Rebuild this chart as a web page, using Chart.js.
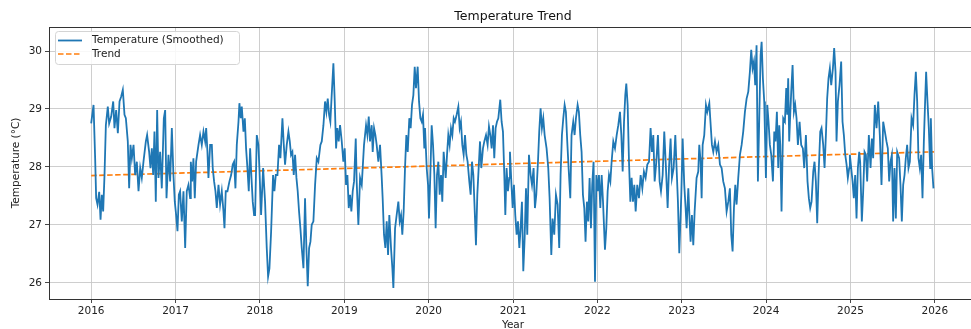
<!DOCTYPE html>
<html>
<head>
<meta charset="utf-8">
<title>Temperature Trend</title>
<style>
  html, body { margin: 0; padding: 0; background: #ffffff; overflow: hidden; }
  #wrap { position: relative; width: 980px; height: 329px; }
  canvas { display: block; }
</style>
<script src="https://cdn.jsdelivr.net/npm/chart.js@4.4.1/dist/chart.umd.min.js"></script>
</head>
<body>
<div id="wrap"><canvas id="chart" width="980" height="329"></canvas></div>
<script>
// Smoothed temperature series: time as decimal year, value in °C
const dates = [
  2016.000, 2016.028, 2016.047, 2016.059, 2016.075, 2016.095, 2016.111, 2016.126, 2016.142, 2016.158,
  2016.174, 2016.197, 2016.213, 2016.237, 2016.261, 2016.276, 2016.296, 2016.316, 2016.336, 2016.355,
  2016.375, 2016.395, 2016.411, 2016.434, 2016.450, 2016.466, 2016.482, 2016.502, 2016.521, 2016.541,
  2016.561, 2016.581, 2016.600, 2016.620, 2016.648, 2016.663, 2016.687, 2016.703, 2016.719, 2016.735,
  2016.750, 2016.766, 2016.782, 2016.798, 2016.817, 2016.837, 2016.861, 2016.877, 2016.893, 2016.916,
  2016.936, 2016.956, 2016.975, 2016.991, 2017.007, 2017.023, 2017.039, 2017.054, 2017.074, 2017.094,
  2017.114, 2017.133, 2017.153, 2017.173, 2017.181, 2017.197, 2017.212, 2017.228, 2017.244, 2017.272,
  2017.291, 2017.311, 2017.331, 2017.351, 2017.363, 2017.378, 2017.390, 2017.410, 2017.430, 2017.441,
  2017.457, 2017.473, 2017.489, 2017.509, 2017.528, 2017.548, 2017.568, 2017.580, 2017.595, 2017.615,
  2017.639, 2017.659, 2017.678, 2017.694, 2017.710, 2017.726, 2017.746, 2017.757, 2017.773, 2017.785,
  2017.805, 2017.821, 2017.836, 2017.852, 2017.868, 2017.884, 2017.900, 2017.915, 2017.931, 2017.943,
  2017.963, 2017.982, 2017.994, 2018.014, 2018.038, 2018.061, 2018.081, 2018.097, 2018.113, 2018.133,
  2018.156, 2018.172, 2018.188, 2018.208, 2018.227, 2018.243, 2018.267, 2018.283, 2018.298, 2018.318,
  2018.338, 2018.354, 2018.369, 2018.385, 2018.401, 2018.417, 2018.433, 2018.448, 2018.464, 2018.480,
  2018.496, 2018.516, 2018.535, 2018.551, 2018.567, 2018.583, 2018.599, 2018.614, 2018.634, 2018.654,
  2018.674, 2018.693, 2018.717, 2018.733, 2018.753, 2018.772, 2018.788, 2018.804, 2018.820, 2018.835,
  2018.851, 2018.871, 2018.887, 2018.903, 2018.918, 2018.934, 2018.950, 2018.970, 2018.989, 2019.005,
  2019.021, 2019.037, 2019.053, 2019.068, 2019.084, 2019.100, 2019.116, 2019.136, 2019.147, 2019.167,
  2019.187, 2019.207, 2019.234, 2019.258, 2019.274, 2019.290, 2019.305, 2019.325, 2019.337, 2019.353,
  2019.369, 2019.384, 2019.404, 2019.424, 2019.444, 2019.455, 2019.471, 2019.487, 2019.503, 2019.519,
  2019.534, 2019.554, 2019.570, 2019.582, 2019.602, 2019.621, 2019.641, 2019.657, 2019.673, 2019.688,
  2019.704, 2019.720, 2019.736, 2019.752, 2019.771, 2019.787, 2019.803, 2019.819, 2019.835, 2019.850,
  2019.870, 2019.886, 2019.902, 2019.918, 2019.933, 2019.949, 2019.957, 2019.977, 2019.993, 2020.004,
  2020.020, 2020.036, 2020.052, 2020.068, 2020.083, 2020.099, 2020.115, 2020.131, 2020.147, 2020.162,
  2020.178, 2020.202, 2020.218, 2020.233, 2020.249, 2020.265, 2020.281, 2020.297, 2020.312, 2020.332,
  2020.352, 2020.368, 2020.383, 2020.399, 2020.415, 2020.431, 2020.447, 2020.462, 2020.482, 2020.498,
  2020.514, 2020.530, 2020.545, 2020.561, 2020.577, 2020.593, 2020.609, 2020.624, 2020.644, 2020.660,
  2020.680, 2020.699, 2020.715, 2020.731, 2020.747, 2020.763, 2020.778, 2020.794, 2020.810, 2020.826,
  2020.849, 2020.865, 2020.881, 2020.897, 2020.909, 2020.924, 2020.940, 2020.956, 2020.964, 2020.980,
  2020.996, 2021.011, 2021.027, 2021.043, 2021.059, 2021.075, 2021.090, 2021.106, 2021.122, 2021.138,
  2021.154, 2021.169, 2021.189, 2021.209, 2021.225, 2021.244, 2021.260, 2021.276, 2021.296, 2021.311,
  2021.327, 2021.343, 2021.359, 2021.375, 2021.398, 2021.418, 2021.434, 2021.454, 2021.469, 2021.489,
  2021.509, 2021.529, 2021.548, 2021.564, 2021.580, 2021.596, 2021.612, 2021.627, 2021.643, 2021.659,
  2021.679, 2021.694, 2021.714, 2021.730, 2021.746, 2021.766, 2021.781, 2021.797, 2021.813, 2021.829,
  2021.845, 2021.860, 2021.876, 2021.892, 2021.908, 2021.924, 2021.939, 2021.955, 2021.972, 2021.988,
  2022.004, 2022.019, 2022.035, 2022.051, 2022.067, 2022.090, 2022.106, 2022.122, 2022.138, 2022.154,
  2022.169, 2022.189, 2022.209, 2022.229, 2022.248, 2022.268, 2022.284, 2022.300, 2022.316, 2022.331,
  2022.343, 2022.359, 2022.375, 2022.391, 2022.406, 2022.422, 2022.438, 2022.454, 2022.473, 2022.493,
  2022.513, 2022.533, 2022.552, 2022.572, 2022.592, 2022.612, 2022.631, 2022.647, 2022.663, 2022.679,
  2022.699, 2022.718, 2022.738, 2022.754, 2022.774, 2022.793, 2022.813, 2022.833, 2022.849, 2022.868,
  2022.884, 2022.904, 2022.924, 2022.939, 2022.955, 2022.971, 2022.995, 2023.011, 2023.030, 2023.046,
  2023.058, 2023.078, 2023.094, 2023.105, 2023.121, 2023.137, 2023.153, 2023.176, 2023.196, 2023.208,
  2023.224, 2023.236, 2023.248, 2023.267, 2023.287, 2023.303, 2023.327, 2023.338, 2023.358, 2023.374,
  2023.394, 2023.413, 2023.433, 2023.453, 2023.473, 2023.492, 2023.512, 2023.532, 2023.552, 2023.571,
  2023.587, 2023.603, 2023.619, 2023.635, 2023.650, 2023.670, 2023.690, 2023.710, 2023.729, 2023.749,
  2023.769, 2023.789, 2023.808, 2023.824, 2023.840, 2023.856, 2023.871, 2023.887, 2023.903, 2023.919,
  2023.935, 2023.947, 2023.962, 2023.978, 2023.986, 2023.998, 2024.014, 2024.029, 2024.045, 2024.061,
  2024.081, 2024.097, 2024.112, 2024.128, 2024.144, 2024.156, 2024.168, 2024.183, 2024.203, 2024.223,
  2024.239, 2024.251, 2024.262, 2024.274, 2024.286, 2024.298, 2024.314, 2024.330, 2024.345, 2024.361,
  2024.377, 2024.397, 2024.416, 2024.436, 2024.452, 2024.472, 2024.491, 2024.507, 2024.523, 2024.539,
  2024.559, 2024.574, 2024.590, 2024.606, 2024.622, 2024.642, 2024.657, 2024.677, 2024.693, 2024.709,
  2024.724, 2024.740, 2024.756, 2024.772, 2024.792, 2024.807, 2024.823, 2024.835, 2024.851, 2024.870,
  2024.890, 2024.906, 2024.922, 2024.938, 2024.954, 2024.969, 2024.985, 2024.993, 2025.009, 2025.025,
  2025.040, 2025.056, 2025.072, 2025.088, 2025.104, 2025.115, 2025.135, 2025.151, 2025.167, 2025.183,
  2025.198, 2025.218, 2025.238, 2025.254, 2025.269, 2025.289, 2025.309, 2025.329, 2025.348, 2025.368,
  2025.388, 2025.408, 2025.427, 2025.443, 2025.459, 2025.475, 2025.491, 2025.506, 2025.522, 2025.538,
  2025.554, 2025.577, 2025.593, 2025.609, 2025.625, 2025.641, 2025.656, 2025.672, 2025.688, 2025.704,
  2025.724, 2025.743, 2025.759, 2025.775, 2025.791, 2025.806, 2025.822, 2025.838, 2025.854, 2025.870,
  2025.885, 2025.897, 2025.913, 2025.929, 2025.945, 2025.953, 2025.968, 2025.984
];

const temps = [
  28.75, 29.07, 28.15, 27.46, 27.35, 27.57, 27.09, 27.52, 27.23, 27.86,
  28.72, 29.04, 28.75, 28.87, 29.13, 28.67, 28.98, 28.58, 29.13, 29.21,
  29.33, 28.90, 28.84, 28.44, 27.63, 28.38, 28.15, 28.38, 27.86, 28.09,
  27.58, 27.98, 27.81, 28.09, 28.44, 28.55, 28.26, 27.98, 28.32, 27.86,
  28.61, 27.40, 28.98, 27.81, 28.26, 27.63, 28.84, 28.98, 27.46, 28.21,
  27.75, 28.67, 27.86, 27.40, 27.17, 26.89, 27.52, 27.58, 27.06, 27.58,
  26.60, 27.58, 27.69, 27.46, 28.09, 27.75, 28.15, 27.46, 28.09, 28.38,
  28.55, 28.38, 28.61, 28.44, 28.67, 28.26, 27.81, 28.38, 28.38, 27.98,
  27.75, 27.58, 27.29, 27.69, 27.35, 27.58, 27.23, 26.94, 27.58, 27.58,
  27.75, 27.86, 28.04, 28.09, 27.63, 28.38, 28.78, 29.10, 28.84, 29.04,
  28.61, 28.84, 28.32, 27.98, 27.58, 28.32, 27.81, 27.40, 27.17, 27.17,
  28.55, 28.38, 27.98, 27.17, 27.98, 27.40, 26.60, 26.11, 26.25, 26.89,
  27.86, 27.58, 27.86, 27.86, 28.38, 28.15, 28.84, 28.38, 28.04, 28.38,
  28.61, 28.44, 28.21, 28.26, 27.86, 28.21, 27.81, 27.58, 27.23, 26.94,
  26.60, 26.25, 27.46, 26.60, 25.94, 26.60, 26.71, 27.00, 27.06, 27.69,
  28.15, 28.09, 28.38, 28.44, 28.72, 29.13, 28.95, 29.18, 28.90, 28.78,
  29.24, 29.79, 29.13, 28.32, 28.67, 28.44, 28.72, 28.44, 28.09, 28.32,
  27.69, 27.86, 27.29, 27.52, 27.23, 27.58, 27.75, 28.49, 27.75, 27.00,
  27.81, 27.69, 28.38, 28.72, 28.55, 28.87, 28.44, 28.72, 28.26, 28.67,
  28.55, 28.38, 28.09, 28.38, 27.81, 27.46, 26.83, 26.60, 27.06, 26.48,
  27.17, 26.60, 26.25, 25.91, 26.94, 27.17, 27.40, 27.06, 27.17, 26.83,
  27.23, 27.98, 28.55, 28.26, 28.84, 28.67, 29.07, 29.24, 29.73, 29.36,
  29.73, 29.13, 28.84, 28.78, 28.90, 28.32, 28.67, 27.98, 27.69, 27.11,
  27.86, 28.72, 28.38, 27.86, 26.94, 27.86, 28.09, 27.52, 27.86, 27.40,
  28.26, 27.81, 28.21, 28.55, 28.38, 28.67, 28.55, 28.84, 28.78, 28.90,
  29.04, 28.67, 28.78, 28.38, 28.21, 28.55, 28.21, 28.09, 27.75, 27.52,
  28.09, 27.86, 27.29, 26.65, 27.52, 27.98, 28.44, 27.98, 28.32, 28.44,
  28.55, 28.38, 28.70, 28.55, 28.32, 28.72, 28.15, 28.67, 28.78, 28.84,
  29.16, 28.78, 28.61, 27.86, 27.17, 27.98, 27.58, 27.81, 28.26, 27.75,
  27.29, 27.69, 27.17, 26.83, 27.06, 26.60, 26.94, 27.40, 26.20, 26.77,
  27.63, 26.83, 28.21, 27.86, 27.69, 27.98, 27.29, 27.52, 28.09, 28.61,
  29.01, 28.67, 28.84, 28.55, 28.32, 27.98, 27.46, 26.48, 27.11, 26.83,
  27.52, 27.35, 26.60, 27.86, 28.55, 28.84, 29.07, 28.95, 28.44, 27.98,
  27.46, 28.55, 28.78, 28.55, 28.84, 29.07, 28.95, 28.55, 28.26, 27.52,
  27.29, 26.71, 27.40, 27.06, 27.81, 26.94, 27.69, 28.09, 26.02, 27.86,
  27.58, 27.86, 27.29, 27.86, 27.40, 26.57, 26.94, 27.58, 27.86, 27.75,
  28.09, 28.44, 28.32, 28.55, 28.72, 28.95, 28.55, 27.92, 28.78, 29.24,
  29.44, 29.07, 28.09, 27.40, 27.81, 27.40, 27.69, 27.23, 27.69, 27.46,
  27.86, 27.63, 27.92, 27.81, 28.04, 28.09, 28.67, 28.26, 28.55, 27.75,
  28.09, 28.55, 27.75, 27.58, 27.86, 28.61, 27.98, 27.29, 27.98, 28.49,
  27.81, 27.98, 28.55, 27.98, 27.40, 26.51, 27.52, 28.49, 27.69, 27.29,
  26.94, 27.63, 27.06, 26.71, 27.17, 26.65, 27.23, 27.81, 27.92, 28.38,
  28.09, 27.46, 28.38, 28.55, 29.07, 28.95, 29.10, 28.84, 28.38, 28.26,
  28.44, 28.26, 28.38, 28.04, 27.98, 27.75, 27.63, 27.23, 27.40, 27.63,
  26.83, 26.54, 27.29, 27.69, 27.35, 27.81, 28.21, 28.38, 28.61, 28.95,
  29.18, 29.30, 29.64, 30.02, 29.70, 29.82, 29.41, 30.10, 27.75, 28.84,
  29.93, 30.16, 29.53, 29.13, 28.61, 27.81, 29.07, 28.78, 28.38, 28.21,
  27.75, 28.61, 28.44, 28.95, 27.98, 28.72, 28.38, 27.23, 28.84, 28.78,
  29.36, 28.90, 29.53, 28.44, 28.90, 29.30, 29.76, 28.95, 29.07, 28.84,
  28.38, 28.78, 28.38, 28.32, 27.98, 28.55, 27.75, 27.46, 27.29, 27.40,
  27.92, 28.09, 27.75, 27.03, 27.86, 28.61, 28.67, 28.38, 27.98, 28.55,
  29.18, 29.53, 29.70, 29.41, 29.70, 30.05, 29.64, 28.44, 29.13, 29.41,
  29.82, 28.78, 28.55, 28.21, 28.04, 27.81, 27.98, 28.21, 27.98, 27.75,
  27.46, 27.86, 27.11, 27.98, 28.26, 28.09, 27.06, 27.58, 28.26, 28.21,
  27.75, 28.55, 27.98, 28.49, 28.15, 29.07, 28.67, 29.13, 28.55, 27.69,
  28.78, 28.61, 28.44, 28.32, 27.75, 28.09, 28.21, 27.06, 27.98, 27.11,
  28.26, 28.15, 27.69, 27.06, 27.69, 27.86, 28.15, 28.38, 27.98, 28.09,
  28.84, 28.72, 29.24, 29.64, 29.13, 28.15, 27.98, 28.21, 27.46, 28.44,
  29.13, 29.64, 29.13, 28.67, 27.98, 28.84, 27.98, 27.63
];

// Linear trend fitted over the same period
const trendDates = [2016.0, 2025.99];
const trendTemps = [27.85, 28.26];

// Axis ticks
const yearTicks = [2016, 2017, 2018, 2019, 2020, 2021, 2022, 2023, 2024, 2025, 2026];
const tempTicks = [26, 27, 28, 29, 30];

const FONT = 'DejaVu Sans';
const TEXT = '#222222';
const GRID = '#c8c8c8';

const seriesPoints = dates.map((d, i) => ({ x: d, y: temps[i] }));
const trendPoints = trendDates.map((d, i) => ({ x: d, y: trendTemps[i] }));

// Title centred over the plotting area, plus the top and right frame lines
const frameAndTitle = {
  id: 'frameAndTitle',
  afterDraw(chart) {
    const { ctx, chartArea: a } = chart;
    ctx.save();
    ctx.strokeStyle = '#333333';
    ctx.lineWidth = 1;
    ctx.beginPath();
    ctx.moveTo(a.left, a.top + 0.5);
    ctx.lineTo(a.right, a.top + 0.5);
    ctx.moveTo(a.right - 0.5, a.top);
    ctx.lineTo(a.right - 0.5, a.bottom);
    ctx.stroke();
    ctx.fillStyle = '#111111';
    ctx.font = '12.5px "' + FONT + '"';
    ctx.textAlign = 'center';
    ctx.textBaseline = 'middle';
    ctx.fillText('Temperature Trend', (a.left + a.right) / 2, 17);
    ctx.restore();
  }
};

// Legend box in the upper-left corner of the plotting area
const cornerLegend = {
  id: 'cornerLegend',
  afterDatasetsDraw(chart) {
    const { ctx, chartArea: a } = chart;
    const x = a.left + 6, y = a.top + 4, w = 184, h = 33;
    ctx.save();
    ctx.beginPath();
    if (ctx.roundRect) ctx.roundRect(x + 0.5, y + 0.5, w, h, 3);
    else ctx.rect(x + 0.5, y + 0.5, w, h);
    ctx.fillStyle = 'rgba(255,255,255,0.85)';
    ctx.fill();
    ctx.strokeStyle = '#d4d4d4';
    ctx.lineWidth = 1;
    ctx.stroke();
    ctx.font = '10.5px "' + FONT + '"';
    ctx.textBaseline = 'middle';
    ctx.textAlign = 'left';
    chart.data.datasets.forEach((ds, i) => {
      const ly = y + 9.5 + i * 13.5;
      ctx.beginPath();
      ctx.setLineDash(ds.borderDash || []);
      ctx.strokeStyle = ds.borderColor;
      ctx.lineWidth = ds.borderWidth;
      ctx.moveTo(x + 3, ly);
      ctx.lineTo(x + 27, ly);
      ctx.stroke();
      ctx.setLineDash([]);
      ctx.fillStyle = TEXT;
      ctx.fillText(ds.label, x + 37, ly);
    });
    ctx.restore();
  }
};

new Chart(document.getElementById('chart'), {
  type: 'line',
  data: {
    datasets: [
      {
        label: 'Temperature (Smoothed)',
        data: seriesPoints,
        borderColor: '#1f77b4',
        borderWidth: 1.8,
        pointRadius: 0,
        tension: 0,
        fill: false
      },
      {
        label: 'Trend',
        data: trendPoints,
        borderColor: '#ff7f0e',
        borderWidth: 1.7,
        borderDash: [5.5, 2.5],
        pointRadius: 0,
        tension: 0,
        fill: false
      }
    ]
  },
  options: {
    responsive: false,
    devicePixelRatio: 1,
    animation: false,
    events: [],
    layout: { padding: { top: 27, right: 3, bottom: 0, left: 0 } },
    plugins: {
      legend: { display: false },
      title: { display: false },
      tooltip: { enabled: false }
    },
    scales: {
      x: {
        type: 'linear',
        min: 2015.5,
        max: 2026.5,
        afterBuildTicks: s => { s.ticks = yearTicks.map(v => ({ value: v })); },
        afterFit: s => { s.height = 30; },
        ticks: {
          font: { family: FONT, size: 10.5 },
          color: TEXT,
          padding: 2,
          maxRotation: 0,
          autoSkip: false,
          callback: v => String(v)
        },
        grid: { color: GRID, lineWidth: 0.9, tickLength: 4, tickColor: '#333333' },
        border: { color: '#333333', width: 1 },
        title: {
          display: true,
          text: 'Year',
          font: { family: FONT, size: 10.5 },
          color: TEXT,
          padding: { top: 0, bottom: -2.5 }
        }
      },
      y: {
        type: 'linear',
        min: 25.72,
        max: 30.415,
        afterBuildTicks: s => { s.ticks = tempTicks.map(v => ({ value: v })); },
        afterFit: s => { s.width = 49; },
        ticks: {
          font: { family: FONT, size: 10.5 },
          color: TEXT,
          padding: 3,
          callback: v => String(v)
        },
        grid: { color: GRID, lineWidth: 0.9, tickLength: 4, tickColor: '#333333' },
        border: { color: '#333333', width: 1 },
        title: {
          display: true,
          text: 'Temperature (°C)',
          font: { family: FONT, size: 10.5 },
          color: TEXT,
          padding: { top: 10, bottom: 0 }
        }
      }
    }
  },
  plugins: [frameAndTitle, cornerLegend]
});
</script>
</body>
</html>
